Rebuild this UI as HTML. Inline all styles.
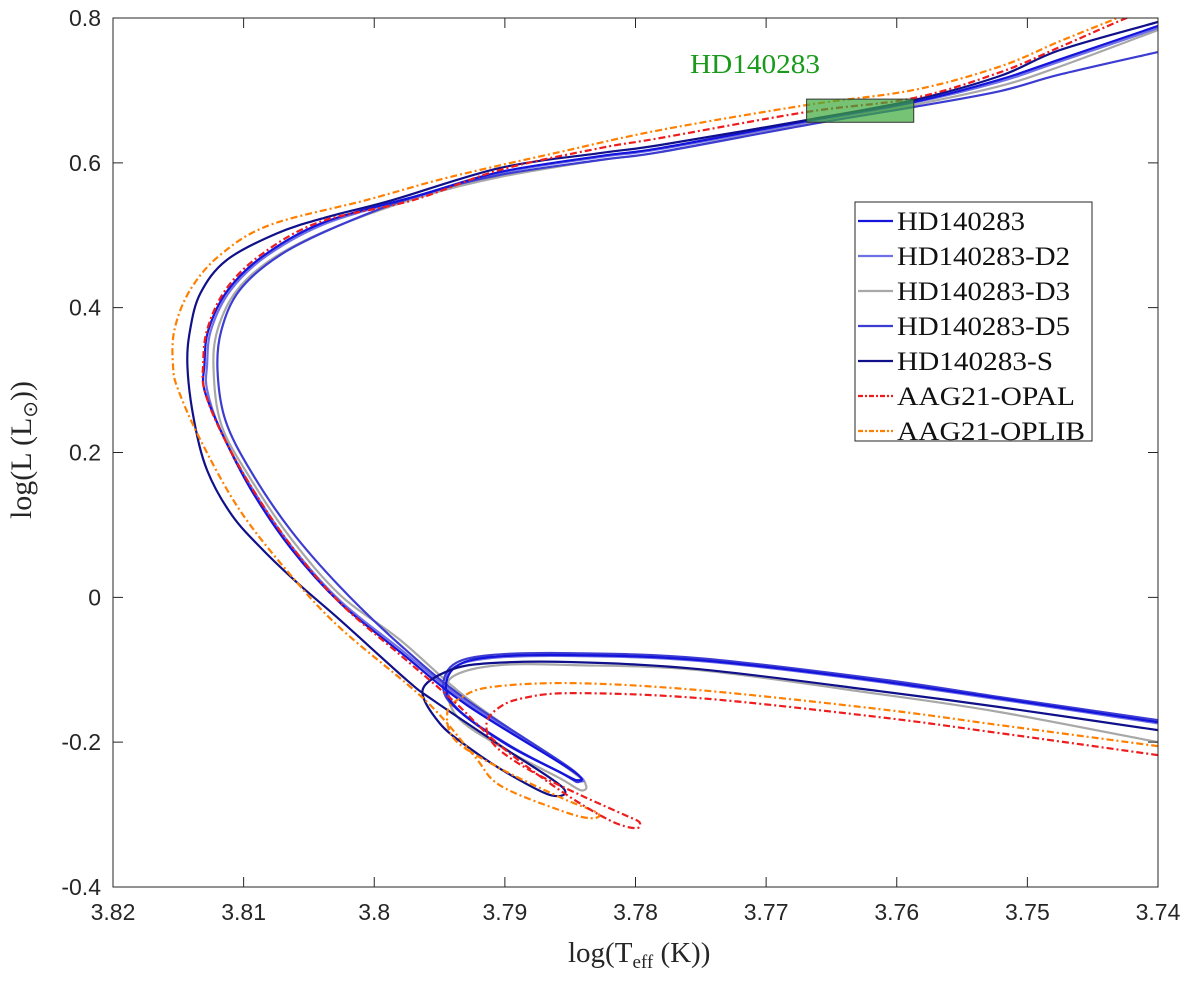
<!DOCTYPE html>
<html><head><meta charset="utf-8">
<style>
html,body{margin:0;padding:0;background:#fff;}
svg{display:block;}
.tick{font-family:"Liberation Sans",sans-serif;font-size:23px;fill:#262626;}
.serif{font-family:"Liberation Serif",serif;}
</style></head>
<body>
<svg id="chart" width="1200" height="986" viewBox="0 0 1200 986" xmlns="http://www.w3.org/2000/svg">
<defs><clipPath id="plotclip"><rect x="113" y="18" width="1045" height="869"/></clipPath></defs>
<rect x="0" y="0" width="1200" height="986" fill="#fff"/>
<g id="series" clip-path="url(#plotclip)"></g>
<g id="axes"></g>
<text x="755" y="73" text-anchor="middle" class="serif" font-size="27" fill="#1a9a1a" textLength="130" lengthAdjust="spacingAndGlyphs">HD140283</text>
<g id="legend"></g>
<text x="568" y="962" class="serif" font-size="29" fill="#262626">log(T<tspan font-size="19" dy="6">eff</tspan><tspan dy="-6"> (K))</tspan></text>
<text transform="translate(31,450) rotate(-90)" text-anchor="middle" class="serif" font-size="30" fill="#262626">log(L (L<tspan font-size="20" dy="6">⊙</tspan><tspan dy="-6">))</tspan></text>
</svg>
<script>
const xTicks = [3.82, 3.81, 3.8, 3.79, 3.78, 3.77, 3.76, 3.75, 3.74];
const xTickLabels = ["3.82", "3.81", "3.8", "3.79", "3.78", "3.77", "3.76", "3.75", "3.74"];
const yTicks = [0.8, 0.6, 0.4, 0.2, 0, -0.2, -0.4];
const yTickLabels = ["0.8", "0.6", "0.4", "0.2", "0", "-0.2", "-0.4"];
const seriesNames = ["HD140283", "HD140283-D2", "HD140283-D3", "HD140283-D5", "HD140283-S", "AAG21-OPAL", "AAG21-OPLIB"];
const starBox = [3.7669, 3.7587, 0.656, 0.688];

const trackHD = [[3.7400,-0.1724],[3.7613,-0.1157],[3.7751,-0.0867],[3.7848,-0.0798],[3.7911,-0.0826],[3.7938,-0.0964],[3.7945,-0.1282],[3.7933,-0.1599],[3.7896,-0.2055],[3.7858,-0.2414],[3.7845,-0.2525],[3.7849,-0.2387],[3.7929,-0.1489],[3.7980,-0.0757],[3.8026,-0.0080],[3.8064,0.0680],[3.8095,0.1508],[3.8117,0.2282],[3.8130,0.2862],[3.8130,0.3207],[3.8127,0.3691],[3.8112,0.4243],[3.8084,0.4727],[3.8038,0.5182],[3.7965,0.5555],[3.7904,0.5873],[3.7827,0.6094],[3.7781,0.6204],[3.7669,0.6577],[3.7587,0.6840],[3.7521,0.7150],[3.7475,0.7430],[3.7400,0.7890]];
const trackD2 = [[3.7400,-0.1740],[3.7613,-0.1170],[3.7751,-0.0880],[3.7848,-0.0810],[3.7911,-0.0840],[3.7940,-0.0980],[3.7944,-0.1290],[3.7932,-0.1610],[3.7894,-0.2070],[3.7856,-0.2430],[3.7843,-0.2540],[3.7848,-0.2400],[3.7928,-0.1470],[3.7979,-0.0730],[3.8026,-0.0050],[3.8064,0.0720],[3.8095,0.1550],[3.8118,0.2320],[3.8128,0.2870],[3.8128,0.3200],[3.8125,0.3690],[3.8110,0.4240],[3.8082,0.4720],[3.8036,0.5170],[3.7965,0.5545],[3.7904,0.5860],[3.7827,0.6080],[3.7781,0.6190],[3.7669,0.6560],[3.7587,0.6830],[3.7521,0.7120],[3.7475,0.7400],[3.7400,0.7860]];
const trackD3 = [[3.7400,-0.2000],[3.7521,-0.1585],[3.7613,-0.1337],[3.7751,-0.1006],[3.7848,-0.0936],[3.7904,-0.0936],[3.7938,-0.1074],[3.7944,-0.1309],[3.7934,-0.1696],[3.7896,-0.2138],[3.7858,-0.2497],[3.7842,-0.2663],[3.7838,-0.2594],[3.7850,-0.2387],[3.7927,-0.1420],[3.7980,-0.0591],[3.8026,0.0030],[3.8064,0.0818],[3.8095,0.1646],[3.8117,0.2379],[3.8123,0.3138],[3.8120,0.3691],[3.8105,0.4243],[3.8076,0.4699],[3.8030,0.5113],[3.7965,0.5528],[3.7904,0.5804],[3.7827,0.6039],[3.7781,0.6149],[3.7669,0.6536],[3.7587,0.6800],[3.7521,0.7060],[3.7475,0.7330],[3.7400,0.7834]];
const trackD5 = [[3.7400,-0.1696],[3.7521,-0.1378],[3.7613,-0.1130],[3.7751,-0.0840],[3.7848,-0.0771],[3.7911,-0.0798],[3.7940,-0.0936],[3.7947,-0.1282],[3.7934,-0.1586],[3.7898,-0.2041],[3.7858,-0.2414],[3.7844,-0.2552],[3.7850,-0.2359],[3.7929,-0.1420],[3.7980,-0.0660],[3.8026,0.0141],[3.8064,0.0928],[3.8095,0.1757],[3.8114,0.2448],[3.8120,0.3138],[3.8117,0.3691],[3.8103,0.4243],[3.8072,0.4727],[3.8026,0.5141],[3.7965,0.5555],[3.7904,0.5832],[3.7827,0.6039],[3.7781,0.6149],[3.7669,0.6522],[3.7587,0.6771],[3.7521,0.6990],[3.7475,0.7220],[3.7400,0.7530]];
const trackS = [[3.7400,-0.1834],[3.7521,-0.1516],[3.7613,-0.1296],[3.7751,-0.0992],[3.7848,-0.0895],[3.7911,-0.0909],[3.7942,-0.1006],[3.7963,-0.1282],[3.7950,-0.1737],[3.7927,-0.2083],[3.7898,-0.2428],[3.7865,-0.2732],[3.7856,-0.2621],[3.7904,-0.2041],[3.7955,-0.1420],[3.7975,-0.1144],[3.8026,-0.0315],[3.8057,0.0169],[3.8085,0.0650],[3.8109,0.1135],[3.8128,0.1757],[3.8138,0.2448],[3.8143,0.3180],[3.8141,0.3691],[3.8133,0.4202],[3.8113,0.4657],[3.8074,0.5030],[3.8036,0.5251],[3.7986,0.5486],[3.7904,0.5928],[3.7827,0.6135],[3.7781,0.6246],[3.7669,0.6591],[3.7587,0.6867],[3.7521,0.7199],[3.7475,0.7558],[3.7400,0.7945]];
const trackOPAL = [[3.7400,-0.2179],[3.7521,-0.1876],[3.7613,-0.1655],[3.7751,-0.1392],[3.7848,-0.1323],[3.7886,-0.1392],[3.7904,-0.1517],[3.7914,-0.1737],[3.7908,-0.2041],[3.7881,-0.2387],[3.7842,-0.2732],[3.7808,-0.3008],[3.7797,-0.3105],[3.7800,-0.3188],[3.7820,-0.3077],[3.7858,-0.2663],[3.7904,-0.2041],[3.7940,-0.1420],[3.7980,-0.0798],[3.8026,-0.0080],[3.8064,0.0721],[3.8095,0.1550],[3.8118,0.2309],[3.8130,0.2862],[3.8131,0.3207],[3.8128,0.3691],[3.8114,0.4243],[3.8087,0.4727],[3.8042,0.5182],[3.7970,0.5486],[3.7904,0.5901],[3.7827,0.6204],[3.7781,0.6343],[3.7669,0.6702],[3.7587,0.6895],[3.7521,0.7250],[3.7475,0.7600],[3.7424,0.8000],[3.7380,0.8300]];
const trackOPLIB = [[3.7400,-0.2055],[3.7521,-0.1765],[3.7613,-0.1544],[3.7751,-0.1282],[3.7848,-0.1185],[3.7911,-0.1240],[3.7934,-0.1392],[3.7944,-0.1586],[3.7938,-0.1972],[3.7904,-0.2359],[3.7858,-0.2759],[3.7829,-0.2980],[3.7835,-0.3050],[3.7858,-0.2939],[3.7904,-0.2594],[3.7924,-0.2179],[3.7961,-0.1420],[3.8026,-0.0425],[3.8064,0.0307],[3.8103,0.1205],[3.8133,0.2171],[3.8150,0.2862],[3.8154,0.3180],[3.8153,0.3691],[3.8141,0.4243],[3.8118,0.4727],[3.8080,0.5141],[3.8006,0.5486],[3.7942,0.5804],[3.7858,0.6149],[3.7781,0.6453],[3.7669,0.6798],[3.7587,0.7006],[3.7521,0.7330],[3.7475,0.7680],[3.7431,0.8000],[3.7390,0.8300]];

const X0 = 113, X1 = 1158, Y0 = 887, Y1 = 18;
function xs(t){ return X0 + (3.82 - t) / 0.08 * (X1 - X0); }
function ys(l){ return Y0 - (l + 0.4) / 1.2 * (Y0 - Y1); }
const NS = "http://www.w3.org/2000/svg";

function smoothPath(pts){
  const p = pts.map(d => [xs(d[0]), ys(d[1])]);
  let s = "M" + p[0][0].toFixed(2) + "," + p[0][1].toFixed(2);
  for (let i = 0; i < p.length - 1; i++){
    const a = p[Math.max(0, i-1)], b = p[i], c = p[i+1], d = p[Math.min(p.length-1, i+2)];
    const c1 = [b[0] + (c[0]-a[0])/6, b[1] + (c[1]-a[1])/6];
    const c2 = [c[0] - (d[0]-b[0])/6, c[1] - (d[1]-b[1])/6];
    s += " C" + c1[0].toFixed(2) + "," + c1[1].toFixed(2) + " " + c2[0].toFixed(2) + "," + c2[1].toFixed(2) + " " + c[0].toFixed(2) + "," + c[1].toFixed(2);
  }
  return s;
}

const styles = [
  {data: trackD3, color: "#a8a8a8", dash: null, name: "track-hd140283-d3"},
  {data: trackD2, color: "#7070e6", dash: null, name: "track-hd140283-d2"},
  {data: trackD5, color: "#3c3cd2", dash: null, name: "track-hd140283-d5"},
  {data: trackHD, color: "#1414dc", dash: null, name: "track-hd140283"},
  {data: trackS, color: "#10108a", dash: null, name: "track-hd140283-s"},
  {data: trackOPLIB, color: "#ff8000", dash: "7,3,2,3", name: "track-aag21-oplib"},
  {data: trackOPAL, color: "#ee1c1c", dash: "7,3,2,3", name: "track-aag21-opal"}
];
const sg = document.getElementById("series");
styles.forEach(st => {
  const path = document.createElementNS(NS, "path");
  path.setAttribute("d", smoothPath(st.data));
  path.setAttribute("fill", "none");
  path.setAttribute("stroke", st.color);
  path.setAttribute("stroke-width", "2.2");
  if (st.dash) path.setAttribute("stroke-dasharray", st.dash);
  
  
  sg.appendChild(path);
});
const box = document.createElementNS(NS, "rect");
box.setAttribute("x", xs(starBox[0]));
box.setAttribute("y", ys(starBox[3]));
box.setAttribute("width", xs(starBox[1]) - xs(starBox[0]));
box.setAttribute("height", ys(starBox[2]) - ys(starBox[3]));
box.setAttribute("fill", "rgb(60,170,60)");
box.setAttribute("fill-opacity", "0.7");
box.setAttribute("stroke", "#333");
box.setAttribute("stroke-width", "1");


sg.appendChild(box);

const ag = document.getElementById("axes");
const frame = document.createElementNS(NS, "rect");
frame.setAttribute("x", X0); frame.setAttribute("y", Y1);
frame.setAttribute("width", X1 - X0); frame.setAttribute("height", Y0 - Y1);
frame.setAttribute("fill", "none"); frame.setAttribute("stroke", "#262626"); frame.setAttribute("stroke-width", "1");


ag.appendChild(frame);
xTicks.forEach((t, i) => {
  const x = xs(t);
  const tk = document.createElementNS(NS, "path");
  tk.setAttribute("d", "M" + x + "," + Y0 + "V" + (Y0 - 10) + "M" + x + "," + Y1 + "V" + (Y1 + 10));
  tk.setAttribute("stroke", "#262626");
  
  
  ag.appendChild(tk);
  const tx = document.createElementNS(NS, "text");
  tx.setAttribute("x", x); tx.setAttribute("y", Y0 + 33);
  tx.setAttribute("text-anchor", "middle"); tx.setAttribute("class", "tick");
  tx.textContent = xTickLabels[i];
  
  
  ag.appendChild(tx);
});
yTicks.forEach((l, i) => {
  const y = ys(l);
  const tk = document.createElementNS(NS, "path");
  tk.setAttribute("d", "M" + X0 + "," + y + "H" + (X0 + 10) + "M" + X1 + "," + y + "H" + (X1 - 10));
  tk.setAttribute("stroke", "#262626");
  
  
  ag.appendChild(tk);
  const tx = document.createElementNS(NS, "text");
  tx.setAttribute("x", X0 - 12); tx.setAttribute("y", y + 8);
  tx.setAttribute("text-anchor", "end"); tx.setAttribute("class", "tick");
  tx.textContent = yTickLabels[i];
  
  
  ag.appendChild(tx);
});

const lg = document.getElementById("legend");
const lbox = document.createElementNS(NS, "rect");
lbox.setAttribute("x", 855); lbox.setAttribute("y", 202);
lbox.setAttribute("width", 237); lbox.setAttribute("height", 239);
lbox.setAttribute("fill", "#fff"); lbox.setAttribute("stroke", "#262626"); lbox.setAttribute("stroke-width", "1");


lg.appendChild(lbox);
const legColors = ["#1414dc", "#7070e6", "#a8a8a8", "#3c3cd2", "#10108a", "#ee1c1c", "#ff8000"];
const legDash = [null, null, null, null, null, "5,2,2,2", "5,2,2,2"];
const legWidths = [128, 173, 173, 173, 156, 178, 188];
seriesNames.forEach((n, i) => {
  const y = 221 + i * 35;
  const ln = document.createElementNS(NS, "line");
  ln.setAttribute("x1", 858); ln.setAttribute("x2", 893);
  ln.setAttribute("y1", y); ln.setAttribute("y2", y);
  ln.setAttribute("stroke", legColors[i]); ln.setAttribute("stroke-width", "2.2");
  if (legDash[i]) ln.setAttribute("stroke-dasharray", legDash[i]);
  
  
  lg.appendChild(ln);
  const tx = document.createElementNS(NS, "text");
  tx.setAttribute("x", 897); tx.setAttribute("y", y + 9);
  tx.setAttribute("class", "serif"); tx.setAttribute("font-size", "26"); tx.setAttribute("fill", "#111");
  tx.setAttribute("textLength", legWidths[i]); tx.setAttribute("lengthAdjust", "spacingAndGlyphs");
  tx.textContent = n;
  
  
  lg.appendChild(tx);
});
</script>
</body></html>
